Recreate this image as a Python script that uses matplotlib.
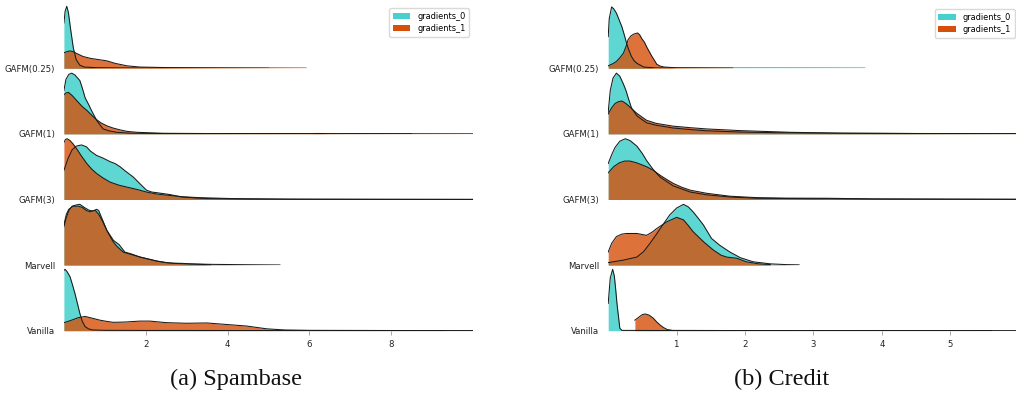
import matplotlib
matplotlib.use("Agg")
import matplotlib.pyplot as plt
from matplotlib.patches import Patch

# ---------------- data ----------------
methods = ["GAFM(0.25)", "GAFM(1)", "GAFM(3)", "Marvell", "Vanilla"]
series_names = ["gradients_0", "gradients_1"]
panel_titles = ["(a) Spambase", "(b) Credit"]

spam_xticks = [2, 4, 6, 8]
credit_xticks = [1, 2, 3, 4, 5]
spam_range = (0, 10)
credit_range = (0, 6)

# (x, scaled density) pairs per method, Spambase, gradients_0
spam_grad0 = {
    "GAFM(0.25)": [(0, 0.73), (0.03, 0.92), (0.07, 1.0), (0.11, 0.9), (0.16, 0.65), (0.23, 0.33),
                   (0.3, 0.14), (0.39, 0.05), (0.5, 0.02), (0.8, 0.01), (1.5, 0.006), (3, 0.003),
                   (5, 0.001)],
    "GAFM(1)": [(0, 0.7), (0.05, 0.88), (0.12, 0.96), (0.19, 0.98), (0.27, 0.95), (0.39, 0.86),
                (0.45, 0.74), (0.52, 0.58), (0.6, 0.48), (0.68, 0.37), (0.8, 0.22), (0.9, 0.13),
                (0.96, 0.08), (1.1, 0.05), (1.29, 0.026), (1.6, 0.012), (2.5, 0.006), (5, 0.003),
                (8.5, 0.001)],
    "GAFM(3)": [(0, 0.47), (0.1, 0.66), (0.2, 0.8), (0.3, 0.86), (0.43, 0.88), (0.55, 0.85),
                (0.65, 0.78), (0.8, 0.71), (0.95, 0.67), (1.13, 0.61), (1.25, 0.58), (1.37, 0.53),
                (1.5, 0.46), (1.7, 0.36), (1.85, 0.26), (2.02, 0.15), (2.15, 0.12), (2.27, 0.11),
                (2.59, 0.08), (2.88, 0.04), (3.2, 0.025), (3.5, 0.015), (4.5, 0.006), (6, 0.003),
                (10, 0.001)],
    "Marvell": [(0, 0.62), (0.05, 0.75), (0.12, 0.88), (0.2, 0.95), (0.3, 0.97), (0.39, 0.98),
                (0.5, 0.93), (0.6, 0.89), (0.7, 0.87), (0.8, 0.9), (0.85, 0.88), (0.95, 0.72),
                (1.05, 0.56), (1.21, 0.4), (1.35, 0.33), (1.49, 0.21), (1.65, 0.18), (1.86, 0.13),
                (2.05, 0.1), (2.27, 0.065), (2.5, 0.04), (2.67, 0.03), (2.9, 0.028), (3.1, 0.02),
                (3.6, 0.012), (4.5, 0.006), (5.28, 0.002)],
    "Vanilla": [(0, 0.97), (0.03, 0.99), (0.08, 0.95), (0.15, 0.87), (0.21, 0.74), (0.27, 0.6),
                (0.33, 0.44), (0.39, 0.28), (0.45, 0.15), (0.52, 0.065), (0.6, 0.03), (0.7, 0.012),
                (1, 0.006), (2, 0.004), (4, 0.003), (6, 0.002), (9.3, 0.001)],
}

# Spambase, gradients_1
spam_grad1 = {
    "GAFM(0.25)": [(0, 0.25), (0.08, 0.27), (0.15, 0.28), (0.22, 0.27), (0.31, 0.24), (0.47, 0.19),
                   (0.65, 0.16), (0.8, 0.145), (1.05, 0.12), (1.25, 0.08), (1.54, 0.04), (1.86, 0.02),
                   (2.5, 0.012), (3.5, 0.008), (4.5, 0.005), (5.92, 0.002)],
    "GAFM(1)": [(0, 0.63), (0.05, 0.66), (0.11, 0.67), (0.2, 0.62), (0.31, 0.54), (0.45, 0.44),
                (0.56, 0.38), (0.76, 0.25), (0.9, 0.18), (1.05, 0.13), (1.2, 0.095), (1.37, 0.065),
                (1.55, 0.04), (1.78, 0.026), (2.4, 0.01), (3.5, 0.006), (6, 0.005), (6.2, 0.007),
                (6.5, 0.004), (10, 0.001)],
    "GAFM(3)": [(0, 0.92), (0.04, 0.97), (0.08, 0.98), (0.15, 0.95), (0.22, 0.9), (0.31, 0.82),
                (0.43, 0.7), (0.56, 0.58), (0.68, 0.49), (0.8, 0.42), (0.95, 0.35), (1.13, 0.28),
                (1.35, 0.23), (1.54, 0.2), (1.8, 0.16), (2.02, 0.12), (2.25, 0.09), (2.51, 0.07),
                (2.9, 0.045), (3.3, 0.03), (4.1, 0.015), (5.5, 0.006), (8, 0.003), (10, 0.002)],
    "Marvell": [(0, 0.65), (0.06, 0.82), (0.12, 0.9), (0.23, 0.95), (0.35, 0.95), (0.45, 0.93),
                (0.55, 0.88), (0.64, 0.86), (0.72, 0.88), (0.77, 0.88), (0.85, 0.82), (0.95, 0.7),
                (1.05, 0.56), (1.2, 0.38), (1.3, 0.3), (1.45, 0.21), (1.6, 0.18), (1.86, 0.13),
                (2.05, 0.1), (2.27, 0.065), (2.5, 0.04), (2.67, 0.03), (2.9, 0.022), (3.3, 0.012),
                (3.59, 0.006)],
    "Vanilla": [(0, 0.13), (0.1, 0.15), (0.23, 0.18), (0.35, 0.21), (0.52, 0.23), (0.7, 0.2),
                (0.88, 0.17), (1.05, 0.15), (1.21, 0.135), (1.5, 0.14), (1.86, 0.155), (2.1, 0.155),
                (2.5, 0.13), (2.99, 0.12), (3.49, 0.125), (3.98, 0.1), (4.47, 0.075), (4.96, 0.03),
                (5.4, 0.012), (6, 0.006), (8, 0.003), (10, 0.002)],
}

# Credit, gradients_0
credit_grad0 = {
    "GAFM(0.25)": [(0, 0.51), (0.015, 0.8), (0.05, 0.99), (0.08, 0.96), (0.12, 0.89), (0.16, 0.78),
                   (0.2, 0.67), (0.24, 0.52), (0.27, 0.4), (0.3, 0.3), (0.34, 0.19), (0.38, 0.12),
                   (0.42, 0.08), (0.52, 0.02), (0.7, 0.006), (1.5, 0.003), (3, 0.002), (3.75, 0.001)],
    "GAFM(1)": [(0, 0.35), (0.03, 0.7), (0.07, 0.9), (0.12, 0.98), (0.17, 0.93), (0.22, 0.81),
                (0.26, 0.7), (0.29, 0.59), (0.34, 0.42), (0.42, 0.29), (0.56, 0.18), (0.7, 0.14),
                (0.81, 0.12), (0.95, 0.095), (1.2, 0.07), (1.44, 0.05), (1.93, 0.03), (2.41, 0.02),
                (3.5, 0.01), (5, 0.005), (6, 0.003)],
    "GAFM(3)": [(0, 0.58), (0.05, 0.72), (0.1, 0.84), (0.17, 0.94), (0.25, 0.98), (0.32, 0.95),
                (0.42, 0.86), (0.5, 0.74), (0.56, 0.63), (0.62, 0.54), (0.66, 0.48), (0.76, 0.36),
                (0.95, 0.22), (1.2, 0.12), (1.44, 0.075), (1.78, 0.04), (2.17, 0.02), (3, 0.012),
                (3.2, 0.013), (4, 0.006), (6, 0.002)],
    "Marvell": [(0, 0.04), (0.22, 0.08), (0.42, 0.13), (0.52, 0.22), (0.61, 0.35), (0.7, 0.49),
                (0.78, 0.62), (0.9, 0.81), (1.0, 0.92), (1.1, 0.98), (1.17, 0.94), (1.24, 0.86),
                (1.32, 0.75), (1.39, 0.65), (1.51, 0.43), (1.63, 0.32), (1.78, 0.21), (1.93, 0.12),
                (2.12, 0.053), (2.37, 0.02), (2.6, 0.008), (2.79, 0.004)],
    "Vanilla": [(0, 0.44), (0.03, 0.85), (0.065, 0.99), (0.09, 0.88), (0.11, 0.66), (0.13, 0.42),
                (0.15, 0.23), (0.17, 0.04), (0.2, 0.005), (1, 0.002), (6, 0.001)],
}

# Credit, gradients_1
credit_grad1 = {
    "GAFM(0.25)": [(0, 0.04), (0.06, 0.07), (0.12, 0.11), (0.17, 0.17), (0.22, 0.24), (0.26, 0.35),
                   (0.29, 0.46), (0.33, 0.52), (0.37, 0.55), (0.43, 0.57), (0.46, 0.54), (0.49, 0.48),
                   (0.53, 0.42), (0.56, 0.35), (0.6, 0.27), (0.64, 0.19), (0.68, 0.12), (0.71, 0.065),
                   (0.76, 0.035), (0.82, 0.02), (1.0, 0.008), (1.82, 0.003)],
    "GAFM(1)": [(0, 0.32), (0.05, 0.42), (0.1, 0.49), (0.15, 0.52), (0.2, 0.53), (0.26, 0.49),
                (0.32, 0.43), (0.42, 0.33), (0.56, 0.22), (0.7, 0.17), (0.81, 0.15), (0.95, 0.125),
                (1.2, 0.1), (1.44, 0.08), (1.93, 0.053), (2.66, 0.026), (3.39, 0.012), (4.5, 0.006),
                (6, 0.003)],
    "GAFM(3)": [(0, 0.43), (0.08, 0.53), (0.16, 0.59), (0.24, 0.62), (0.32, 0.62), (0.42, 0.59),
                (0.56, 0.53), (0.66, 0.47), (0.76, 0.39), (0.86, 0.32), (0.95, 0.26), (1.07, 0.2),
                (1.2, 0.15), (1.44, 0.1), (1.78, 0.053), (2.17, 0.03), (2.6, 0.022), (3.2, 0.02),
                (3.85, 0.01), (5, 0.006), (6, 0.004)],
    "Marvell": [(0, 0.21), (0.05, 0.35), (0.12, 0.46), (0.2, 0.5), (0.27, 0.51), (0.42, 0.51),
                (0.56, 0.48), (0.64, 0.53), (0.71, 0.59), (0.86, 0.7), (1.0, 0.77), (1.1, 0.73),
                (1.17, 0.64), (1.24, 0.54), (1.39, 0.38), (1.54, 0.24), (1.65, 0.16), (1.73, 0.13),
                (1.88, 0.11), (2.02, 0.053), (2.2, 0.02), (2.37, 0.008)],
    "Vanilla": [(0.39, 0.17), (0.45, 0.22), (0.5, 0.26), (0.54, 0.27), (0.6, 0.25), (0.66, 0.2),
                (0.71, 0.14), (0.76, 0.09), (0.81, 0.05), (0.86, 0.02), (0.94, 0.005), (2, 0.002),
                (5.6, 0.001)],
}

# ---------------- styling ----------------
TEAL = "#48D1CC"
ORANGE = "#D5500A"
plt.rcParams["font.family"] = ["DejaVu Sans"]
plt.rcParams["font.stretch"] = "condensed"

W, H = 1016, 393
fig = plt.figure(figsize=(W / 100, H / 100), dpi=100)

ROW_H = 65.6
FIRST_BASE = 68.3


def draw_panel(left_px, right_px, xrange_, xticks, g0, g1, legend_corner, title, title_x):
    axes = []
    for i, m in enumerate(methods):
        base = FIRST_BASE + ROW_H * i
        ax = fig.add_axes([left_px / W, 1 - base / H, (right_px - left_px) / W, ROW_H / H])
        ax.patch.set_visible(False)
        for data, color, alpha in ((g0, TEAL, 0.88), (g1, ORANGE, 0.8)):
            x, y = zip(*data[m])
            ax.fill_between(x, 0, y, color=color, alpha=alpha, lw=0)
            ax.plot(x, y, color="#1a1a1a", lw=0.75)
        ax.set_xlim(*xrange_)
        ax.set_ylim(0, 1.058)
        for s in ax.spines.values():
            s.set_visible(False)
        ax.set_yticks([0])
        ax.set_yticklabels([m])
        ax.tick_params(axis="y", length=0, pad=6.4, labelsize=6.8, colors="#222222")
        if i == len(methods) - 1:
            ax.set_xticks(xticks)
            ax.set_xticklabels([str(t) for t in xticks])
            ax.tick_params(axis="x", length=3, width=0.6, color="#999999", pad=4,
                           labelsize=6.8, labelcolor="#222222")
        else:
            ax.set_xticks([])
        axes.append(ax)
    handles = [Patch(facecolor=TEAL, edgecolor="none"), Patch(facecolor=ORANGE, edgecolor="none")]
    axes[0].legend(handles, series_names, loc="upper right",
                   bbox_to_anchor=(legend_corner[0] / W, 1 - legend_corner[1] / H),
                   bbox_transform=fig.transFigure, borderaxespad=0, fontsize=6.6,
                   labelspacing=0.35, handlelength=1.9, handleheight=0.7, framealpha=0.8,
                   edgecolor="#d0d0d0")
    fig.text(title_x / W, 1 - 379 / H, title, ha="center", va="center",
             fontsize=17.5, family="Liberation Serif", color="#111111")


draw_panel(63.9, 473.0, spam_range, spam_xticks, spam_grad0, spam_grad1,
           (469.3, 8.3), panel_titles[0], 235.6)
draw_panel(608.2, 1018.7, credit_range, credit_xticks, credit_grad0, credit_grad1,
           (1015.0, 9.3), panel_titles[1], 781.6)

fig.savefig("out.png", dpi=100)
